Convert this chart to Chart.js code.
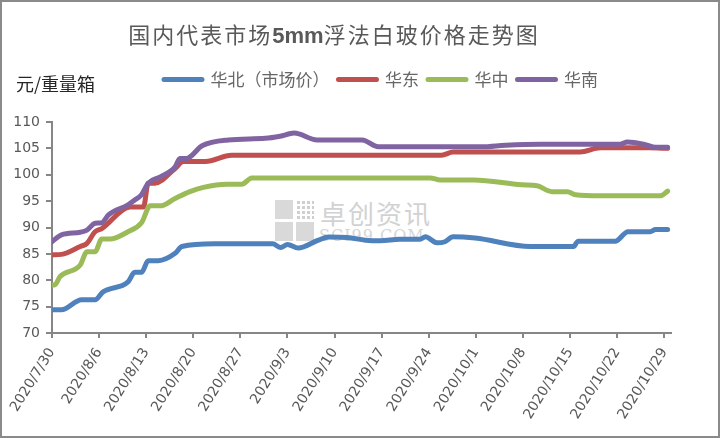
<!DOCTYPE html>
<html lang="zh-CN">
<head>
<meta charset="utf-8">
<title>国内代表市场5mm浮法白玻价格走势图</title>
<script src="https://cdn.jsdelivr.net/npm/chart.js@4.4.1/dist/chart.umd.min.js"></script>
<style>
  html, body { margin: 0; padding: 0; background: #fff; }
  #wrap { position: relative; width: 720px; height: 438px; overflow: hidden; }
  #priceChart { position: absolute; left: 0; top: 0; z-index: 1; }
  #frame { position: absolute; left: 0; top: 0; width: 720px; height: 438px; box-sizing: border-box;
           border: 2px solid #8a8a8a; z-index: 2; pointer-events: none; }
  #title { position: absolute; left: 0; top: 18px; width: 668px; text-align: center; z-index: 2;
           font-family: "Noto Sans CJK SC", sans-serif; font-size: 22px; line-height: 30px;
           color: #595959; letter-spacing: 2px; }
  #title b { font-family: "Liberation Sans", sans-serif; font-weight: bold; letter-spacing: 0; }
  #unit { position: absolute; left: 16px; top: 71px; z-index: 2;
          font-family: "Noto Sans CJK SC", sans-serif; font-size: 18px; line-height: 24px; color: #262626; }
  /* 水印 */
  #mark { position: absolute; left: 275px; top: 198px; z-index: 0; }
  #mark .logo { position: absolute; left: 0; top: 2px; width: 40px; height: 42px; }
  #mark .logo span { position: absolute; width: 18px; height: 19px; background: #d9d9d9; }
  #mark .logo span:nth-child(1) { left: 0; top: 0; }
  #mark .logo span:nth-child(2) { left: 21px; top: 0; background: radial-gradient(#cfcfcf 40%, transparent 45%) 0 0 / 5px 5px; }
  #mark .logo span:nth-child(3) { left: 0; top: 22px; }
  #mark .logo span:nth-child(4) { left: 21px; top: 22px; }
  #mark .cn { position: absolute; left: 45px; top: -4px; white-space: nowrap;
              font-family: "Noto Sans CJK SC", sans-serif; font-size: 26px; color: #d2d2d2; letter-spacing: 2px; }
  #mark .en { position: absolute; left: 44px; top: 28px; white-space: nowrap;
              font-family: "DejaVu Serif", serif; font-size: 16px; color: #d6d6d6; letter-spacing: 1px; }
</style>
</head>
<body>
<div id="wrap">
  <div id="mark">
    <div class="logo"><span></span><span></span><span></span><span></span></div>
    <div class="cn">卓创资讯</div>
    <div class="en">SCI99.COM</div>
  </div>
  <canvas id="priceChart" width="720" height="438"></canvas>
  <div id="title">国内代表市场<b>5mm</b>浮法白玻价格走势图</div>
  <div id="unit">元/重量箱</div>
  <div id="frame"></div>
</div>

<script>
// ================= 数据 =================
// 横轴：距 2020/7/30 的天数
const tickDays = [0, 7, 14, 21, 28, 35, 42, 49, 56, 63, 70, 77, 84, 91];
const tickLabels = ["2020/7/30", "2020/8/6", "2020/8/13", "2020/8/20", "2020/8/27", "2020/9/3",
  "2020/9/10", "2020/9/17", "2020/9/24", "2020/10/1", "2020/10/8", "2020/10/15", "2020/10/22", "2020/10/29"];
const seriesNames = ["华北（市场价）", "华东", "华中", "华南"];

// 华北（市场价）
const northDays = [0, 1.4, 4.4, 6.4, 7.6, 11.3, 12.3, 13.3, 14.3, 15.8, 18.3, 19.3, 24.2, 32.8, 34.0, 35.0,
  36.6, 39.6, 41.1, 43.9, 46.6, 48.8, 51.7, 54.7, 55.5, 57.2, 58.4, 59.6, 62.9, 71.1, 77.5, 78.2, 83.7,
  85.6, 88.9, 89.7, 91.5];
const northPrices = [74.4, 74.4, 76.3, 76.3, 77.8, 79.7, 81.5, 81.5, 83.7, 83.7, 85.1, 86.4, 86.9, 86.9, 86.2, 86.8,
  86.1, 87.6, 88.2, 88.1, 87.6, 87.5, 87.75, 87.75, 88.25, 87.1, 87.3, 88.25, 88.0, 86.4, 86.4, 87.4, 87.4,
  89.2, 89.2, 89.6, 89.6];

// 华东
const eastDays = [0, 1.4, 4.2, 5.2, 6.4, 7.4, 11.6, 13.6, 14.3, 15.3, 18.3, 19.5, 22.8, 26.7, 57.9, 59.6,
  78.5, 81.5, 88.9, 91.5];
const eastPrices = [84.8, 84.9, 86.4, 87.0, 89.2, 89.8, 93.9, 93.9, 98.4, 98.4, 101.2, 102.5, 102.5, 103.7, 103.7, 104.3,
  104.3, 105.1, 105.1, 105.0];

// 华中
const centralDays = [0, 0.4, 1.2, 4.2, 5.2, 6.4, 7.4, 8.6, 11.3, 13.3, 14.6, 16.1, 18.3, 20.5, 22.5, 26.0, 28.2,
  29.7, 56.2, 57.7, 62.7, 69.8, 72.1, 74.3, 76.6, 77.8, 81.5, 90.4, 91.5];
const centralPrices = [79.1, 79.1, 80.7, 82.9, 85.4, 85.4, 87.8, 87.8, 89.2, 90.9, 94.1, 94.1, 95.5, 96.8, 97.6, 98.2, 98.2,
  99.4, 99.4, 99.0, 99.0, 98.1, 97.9, 96.8, 96.8, 96.2, 96.0, 96.0, 96.9];

// 华南
const southDays = [0, 1.4, 4.2, 5.2, 6.4, 7.4, 8.4, 11.3, 12.3, 13.3, 14.3, 16.1, 18.3, 19.0, 20.0, 22.3, 26.2,
  31.7, 33.9, 36.0, 39.4, 46.1, 48.5, 63.9, 67.4, 72.6, 84.5, 85.5, 88.2, 89.7, 91.5];
const southPrices = [87.3, 88.6, 89.1, 89.5, 90.8, 90.9, 92.4, 94.3, 95.2, 96.2, 98.4, 99.6, 101.5, 103.1, 103.1, 105.5, 106.6,
  106.9, 107.3, 107.9, 106.6, 106.6, 105.3, 105.3, 105.6, 105.8, 105.8, 106.2, 105.7, 105.2, 105.2];

const lineColors = ["#4f81bd", "#c0504d", "#9bbb59", "#8064a2"];

// ================= 工具 =================
const CJK_FONT = '"Noto Sans CJK SC", sans-serif';
const NUM_FONT = '"DejaVu Sans", sans-serif';
const AXIS_GRAY = "#868686";

function toPoints(days, prices) {
  return days.map((d, i) => ({ x: d, y: prices[i] }));
}

function makeSeries(idx, days, prices, order) {
  return {
    label: seriesNames[idx],
    data: toPoints(days, prices),
    borderColor: lineColors[idx],
    backgroundColor: lineColors[idx],
    borderWidth: 5,
    borderCapStyle: "round",
    borderJoinStyle: "round",
    pointRadius: 0,
    cubicInterpolationMode: "monotone",
    fill: false,
    order: order,
  };
}

// 把图例挪到标题下方（与原图位置一致）
const legendPlacer = {
  id: "legendPlacer",
  afterLayout(chart) {
    const lg = chart.legend;
    if (!lg || !lg.lineWidths) return;
    const pad = lg.options.labels.padding;
    const start = (lg.left + pad + lg.right - lg.lineWidths[0]) / 2;
    const dx = 164 - start;
    const dy = 62 - lg.top;
    lg.left += dx;
    lg.right += dx;
    lg.top += dy;
    lg.bottom += dy;
  },
};

// ================= 画图 =================
const ctx = document.getElementById("priceChart").getContext("2d");

new Chart(ctx, {
  type: "line",
  data: {
    datasets: [
      makeSeries(0, northDays, northPrices, 4),
      makeSeries(1, eastDays, eastPrices, 3),
      makeSeries(2, centralDays, centralPrices, 2),
      makeSeries(3, southDays, southPrices, 1),
    ],
  },
  options: {
    responsive: false,
    animation: false,
    layout: { padding: { top: 86, right: 49, bottom: 0, left: 0 } },
    plugins: {
      legend: {
        position: "top",
        labels: {
          boxWidth: 38,
          boxHeight: 0,
          padding: 9,
          color: "#666666",
          font: { family: CJK_FONT, size: 17 },
          sort: (a, b) => a.datasetIndex - b.datasetIndex,
        },
      },
      tooltip: { enabled: false },
    },
    scales: {
      x: {
        type: "linear",
        min: 0,
        max: 92,
        afterBuildTicks: (scale) => {
          scale.ticks = tickDays.map((v) => ({ value: v }));
        },
        afterFit: (scale) => {
          scale.height = 105;
        },
        grid: { drawOnChartArea: false, drawTicks: true, tickLength: 5, color: AXIS_GRAY, lineWidth: 2 },
        border: { color: AXIS_GRAY, width: 2 },
        ticks: {
          autoSkip: false,
          minRotation: 58,
          maxRotation: 58,
          padding: 7,
          color: "#595959",
          font: { family: NUM_FONT, size: 14 },
          callback: (value) => tickLabels[tickDays.indexOf(value)],
        },
      },
      y: {
        min: 70,
        max: 110,
        afterFit: (scale) => {
          scale.width = 52;
        },
        grid: { drawOnChartArea: false, drawTicks: true, tickLength: 6, color: AXIS_GRAY, lineWidth: 2 },
        border: { color: AXIS_GRAY, width: 2 },
        ticks: {
          stepSize: 5,
          padding: 6,
          color: "#595959",
          font: { family: NUM_FONT, size: 14 },
        },
      },
    },
  },
  plugins: [legendPlacer],
});
</script>
</body>
</html>
